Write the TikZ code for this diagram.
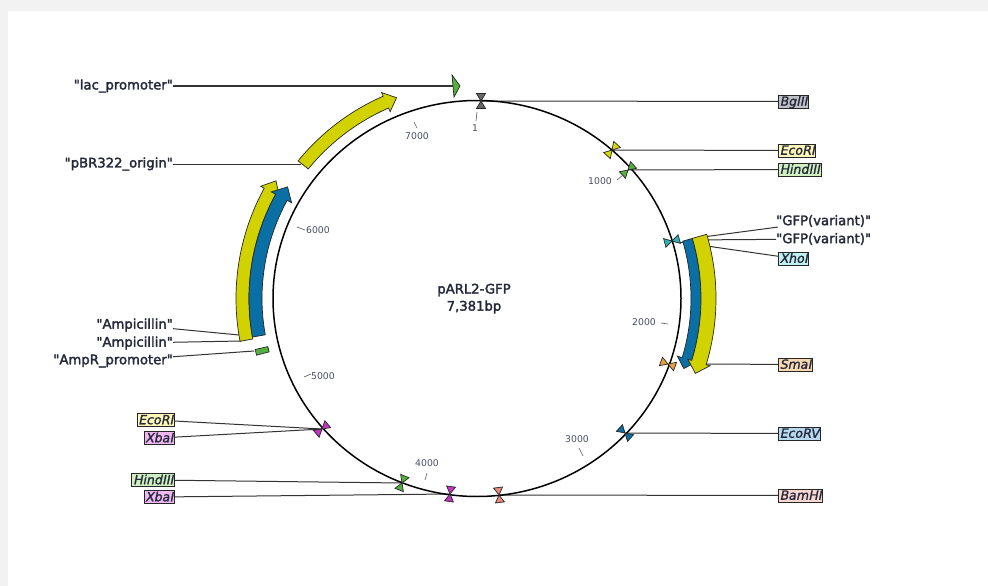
\documentclass[tikz,border=0pt]{standalone}
\usepackage{fontspec}
\setmainfont{DejaVu Sans}
\newfontfamily\labfont[FakeBold=2.2]{DejaVu Sans}
\newfontfamily\sitefont[FakeSlant=0.2,FakeBold=1.2]{DejaVu Sans}
\usetikzlibrary{calc}
\definecolor{bandyellow}{HTML}{D2D200}
\definecolor{bandblue}{HTML}{0A6FA5}
\definecolor{promgreen}{HTML}{55B040}
\definecolor{inktext}{HTML}{23283A}
\definecolor{numtext}{HTML}{4A4F68}
\definecolor{sitepurple}{HTML}{C235C2}
\definecolor{sitecyan}{HTML}{30B0B8}
\definecolor{siteorange}{HTML}{E8A040}
\definecolor{sitesalmon}{HTML}{E88878}
\definecolor{siteyellow}{HTML}{D8D800}
\definecolor{boxgrey}{HTML}{C0C0C8}
\definecolor{boxyellow}{HTML}{FFF8B8}
\definecolor{boxgreen}{HTML}{D0F0C0}
\definecolor{boxcyan}{HTML}{C0F0F0}
\definecolor{boxorange}{HTML}{F8D8B0}
\definecolor{boxblue}{HTML}{B8D8F0}
\definecolor{boxsalmon}{HTML}{F8D8D0}
\definecolor{boxpurple}{HTML}{F0B8F0}
\newcommand{\RX}{204}
\newcommand{\RY}{198}
% \band{a1}{a2}{atip}{r-in}{r-out}{wing}{colour}: tail at a1, head base at a2
\newcommand{\band}[7]{%
  \pgfmathsetmacro{\ia}{\RX+#4}\pgfmathsetmacro{\ib}{\RY+#4}%
  \pgfmathsetmacro{\oa}{\RX+#5}\pgfmathsetmacro{\ob}{\RY+#5}%
  \pgfmathsetmacro{\midr}{(#4+#5)/2}%
  \pgfmathsetmacro{\wa}{\RX+#4-#6}\pgfmathsetmacro{\wb}{\RY+#4-#6}%
  \pgfmathsetmacro{\va}{\RX+#5+#6}\pgfmathsetmacro{\vb}{\RY+#5+#6}%
  \pgfmathsetmacro{\ta}{\RX+\midr}\pgfmathsetmacro{\tb}{\RY+\midr}%
  \draw[feature,fill=#7] (#1:\ia pt and \ib pt)
    arc[start angle=#1,end angle=#2,x radius=\ia pt,y radius=\ib pt]
    -- (#2:\wa pt and \wb pt) -- (#3:\ta pt and \tb pt) -- (#2:\va pt and \vb pt)
    -- (#2:\oa pt and \ob pt)
    arc[start angle=#2,end angle=#1,x radius=\oa pt,y radius=\ob pt] -- cycle;}
\tikzset{
  feature/.style={draw=black!85,line width=0.7pt,line join=miter},
  link/.style={draw=black!80,line width=1pt},
  tickmark/.style={draw=black!65,line width=0.6pt},
  featlabel/.style={font=\labfont\fontsize{13.2}{14}\selectfont,text=inktext,anchor=east,inner sep=0pt},
  sitelabel/.style={font=\sitefont\fontsize{12.6}{14}\selectfont,text=inktext,draw=black!85,line width=1pt,
     inner xsep=1.2pt,inner ysep=0pt,minimum height=13pt,text height=9.5pt,text depth=1pt},
  numlabel/.style={font=\fontsize{9.3}{11}\selectfont,text=numtext,inner sep=0pt},
  titlelabel/.style={font=\labfont\fontsize{13.2}{15}\selectfont,text=inktext,inner sep=0pt},
  bowtie/.style={draw=black!85,line width=0.7pt,fill=#1},
}
% \site{name}{px x}{px y}{radial angle}{colour}
\newcommand{\site}[5]{%
  \coordinate (#1) at (#2,#3);
  \begin{scope}[shift={(#1)},rotate=#4]
    \draw[bowtie=#5] (-7.5,-4.5) -- (7.5,4.5) -- (7.5,-4.5) -- (-7.5,4.5) -- cycle;
  \end{scope}}
\begin{document}
\begin{tikzpicture}[x=1pt,y=-1pt]
\useasboundingbox (0,0) rectangle (988,586);
\fill[black!5] (0,0) rectangle (988,586);
\fill[white] (8,11) rectangle (988,586);

% label nodes
\node[featlabel] (lac) at (173,86) {"lac\_promoter"};
\node[featlabel] (ori) at (173,164) {"pBR322\_origin"};
\node[featlabel] (ampa) at (173,325) {"Ampicillin"};
\node[featlabel] (ampb) at (173,343) {"Ampicillin"};
\node[featlabel] (ampr) at (173,361) {"AmpR\_promoter"};
\node[featlabel,anchor=west] (gfpa) at (776,221) {"GFP(variant)"};
\node[featlabel,anchor=west] (gfpb) at (776,239) {"GFP(variant)"};

\coordinate (lacend) at (453,86);
\coordinate (oriend) at (301,164);
\coordinate (ampaend) at (239,335);
\coordinate (ampbend) at (241,341);
\coordinate (amprend) at (254,351);
\coordinate (gfpaend) at (703,237);
\coordinate (gfpbend) at (688,240);
\coordinate (smaend) at (706,364);

\node[sitelabel,fill=boxgrey,anchor=west] (bgl) at (778,101.5) {BglII};
\node[sitelabel,fill=boxyellow,anchor=west] (ecoa) at (778,150.5) {EcoRI};
\node[sitelabel,fill=boxgreen,anchor=west] (hinda) at (778,169.5) {HindIII};
\node[sitelabel,fill=boxcyan,anchor=west] (xho) at (778,258.5) {XhoI};
\node[sitelabel,fill=boxorange,anchor=west] (sma) at (778,364.5) {SmaI};
\node[sitelabel,fill=boxblue,anchor=west] (ecov) at (778,433.5) {EcoRV};
\node[sitelabel,fill=boxsalmon,anchor=west] (bam) at (778,495.5) {BamHI};
\node[sitelabel,fill=boxyellow,anchor=east] (ecob) at (175,420) {EcoRI};
\node[sitelabel,fill=boxpurple,anchor=east] (xba) at (175,438) {XbaI};
\node[sitelabel,fill=boxgreen,anchor=east] (hindb) at (175,480) {HindIII};
\node[sitelabel,fill=boxpurple,anchor=east] (xbb) at (175,497) {XbaI};

% connectors that run behind the features
\coordinate (sBgl) at (481,101);
\coordinate (sEcoA) at (612,150);
\coordinate (sHindA) at (628,170);
\coordinate (sXho) at (672,241);
\coordinate (sSma) at (668,364);
\coordinate (sEcoV) at (625,433);
\coordinate (sBam) at (499,495);
\coordinate (sXbaA) at (322,429);
\coordinate (sHindB) at (402,483);
\coordinate (sXbaB) at (450,494);

\draw[link] (lac) -- (lacend);
\draw[link] (ori) -- (oriend);
\draw[link] (ampa) -- (ampaend);
\draw[link] (ampb) -- (ampbend);
\draw[link] (ampr) -- (amprend);
\draw[link] (gfpa) -- (gfpaend);
\draw[link] (gfpb) -- (gfpbend);
\draw[link] (bgl) -- (sBgl);
\draw[link] (ecoa) -- (sEcoA);
\draw[link] (hinda) -- (sHindA);
\draw[link] (xho) -- (sXho);
\draw[link] (sma) -- (smaend);
\draw[link] (ecov) -- (sEcoV);
\draw[link] (bam) -- (sBam);
\draw[link] (ecob) -- (sXbaA);
\draw[link] (xba) -- (sXbaA);
\draw[link] (hindb) -- (sHindB);
\draw[link] (xbb) -- (sXbaB);

% backbone
\draw[black,line width=1.5pt] (477,298.5) ellipse [x radius=\RX,y radius=\RY];

% feature arrows (true angles, positive above centre)
\begin{scope}[shift={(477,298.5)}]
  \band{141.7}{114.3}{111.3}{11}{24}{4}{bandyellow}
  \band{190.5}{152}{149}{24}{37}{4}{bandyellow}
  \band{190}{152}{148.8}{11}{24}{5}{bandblue}
  \band{16}{-16.5}{-19.2}{10}{20}{5}{bandblue}
  \band{16}{-16.5}{-19.4}{20}{35}{4}{bandyellow}
  \draw[feature,fill=promgreen] (194.8:215pt and 209pt)
     -- (194.8:228pt and 222pt) -- (193.3:228pt and 222pt) -- (193.3:215pt and 209pt) -- cycle;
\end{scope}
\draw[feature,fill=promgreen] (452,75) -- (460,86) -- (454,97) -- cycle;

% restriction sites
\site{a}{481}{101}{90}{black!60}
\site{b}{612}{150}{48}{siteyellow}
\site{c}{628}{170}{42}{promgreen}
\site{d}{672}{241}{15}{sitecyan}
\site{e}{668}{364}{-20}{siteorange}
\site{f}{625}{433}{-42}{bandblue}
\site{g}{499}{495}{-83}{sitesalmon}
\site{h}{322}{429}{40}{sitepurple}
\site{i}{402}{483}{68}{promgreen}
\site{j}{450}{494}{82}{sitepurple}

% tick marks and position labels
\coordinate (ta1) at (477,112); \coordinate (tb1) at (476,121);
\coordinate (ta2) at (623,175); \coordinate (tb2) at (617,180);
\coordinate (ta3) at (668,324); \coordinate (tb3) at (661,323);
\coordinate (ta4) at (583,456); \coordinate (tb4) at (579,448);
\coordinate (ta5) at (427,473); \coordinate (tb5) at (425,480);
\coordinate (ta6) at (304,377); \coordinate (tb6) at (311,374);
\coordinate (ta7) at (297,227); \coordinate (tb7) at (305,230);
\coordinate (ta8) at (414,122); \coordinate (tb8) at (417,128);
\foreach \i in {1,...,8} \draw[tickmark] (ta\i) -- (tb\i);
\node[numlabel] (n1) at (475,128) {1};
\node[numlabel] (n1000) at (600,181) {1000};
\node[numlabel] (n2000) at (644,322) {2000};
\node[numlabel] (n3000) at (577,439) {3000};
\node[numlabel] (n4000) at (427,463) {4000};
\node[numlabel] (n5000) at (323,376) {5000};
\node[numlabel] (n6000) at (318,230) {6000};
\node[numlabel] (n7000) at (417,136) {7000};

\node[titlelabel] (title) at (474,290) {pARL2-GFP};
\node[titlelabel] (size) at (474,307) {7,381bp};
\end{tikzpicture}
\end{document}
